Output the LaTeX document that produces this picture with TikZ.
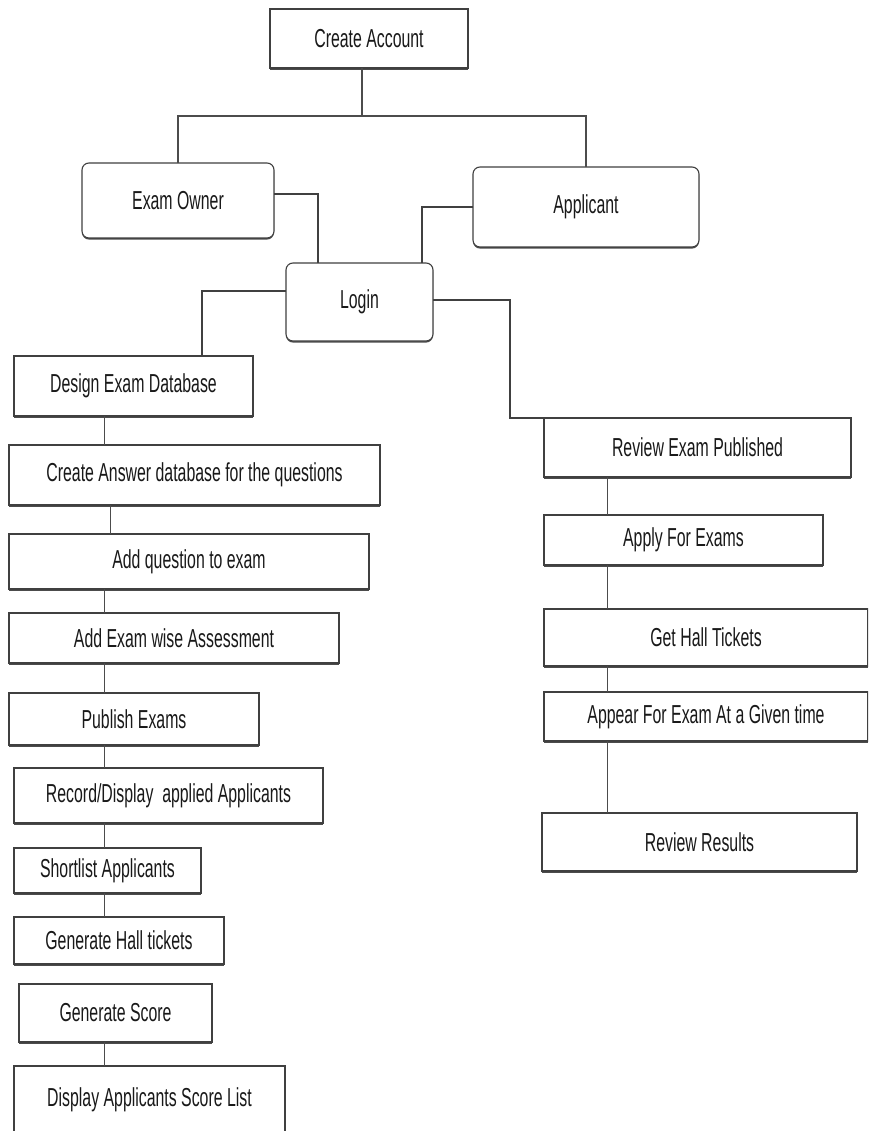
\documentclass[tikz,border=0pt]{standalone}
\usepackage{fontspec}
\newfontfamily\condfont[FakeStretch=0.61]{Liberation Sans}
\usetikzlibrary{shadows}
\begin{document}
\begin{tikzpicture}[x=1pt,y=-1pt,
  box/.style={draw=black!75, line width=1.1pt, fill=white, inner sep=0pt, outer sep=0pt,
    font=\condfont\fontsize{26}{28}\selectfont, text=black!90,
    drop shadow={shadow xshift=0pt, shadow yshift=-1.6pt, fill=black!70, opacity=1}},
  rbox/.style={box, rounded corners=7pt},
  conn/.style={draw=black!70, line width=1pt},
  thick conn/.style={draw=black!75, line width=1.8pt}]
\useasboundingbox (0,0) rectangle (868,1131);
\clip (0,0) rectangle (868,1131);
\fill[white] (0,0) rectangle (868,1131);

% top part
\node[box, minimum width=198, minimum height=59] (ca) at (369,38.5) {Create Account};
\node[rbox, minimum width=192, minimum height=75] (eo) at (178,200.5) {Exam Owner};
\node[rbox, minimum width=226, minimum height=80] (ap) at (586,207) {Applicant};
\node[rbox, minimum width=147, minimum height=78] (lg) at (359.5,302) {Login};

% exam owner column
\node[box, minimum width=239, minimum height=60] (d1) at (133.5,386) {Design Exam Database};
\node[box, minimum width=371, minimum height=60] (d2) at (194.5,475) {Create Answer database for the questions};
\node[box, minimum width=360, minimum height=55] (d3) at (189,561.5) {Add question to exam};
\node[box, minimum width=330, minimum height=50] (d4) at (174,638) {Add Exam wise Assessment};
\node[box, minimum width=250, minimum height=52] (d5) at (134,719) {Publish Exams};
\node[box, minimum width=309, minimum height=55] (d6) at (168.5,795.5) {Record/Display\ \ applied Applicants};
\node[box, minimum width=187, minimum height=45] (d7) at (107.5,870.5) {Shortlist Applicants};
\node[box, minimum width=210, minimum height=47] (d8) at (119,940.5) {Generate Hall tickets};
\node[box, minimum width=193, minimum height=58] (d9) at (115.5,1013) {Generate Score};
\node[box, minimum width=271, minimum height=68] (d10) at (149.5,1100) {Display Applicants Score List};

% applicant column
\node[box, minimum width=307, minimum height=59] (r1) at (697.5,447.5) {Review Exam Published};
\node[box, minimum width=279, minimum height=50] (r2) at (683.5,540) {Apply For Exams};
\node[box, minimum width=324, minimum height=57] (r3) at (706,637.5) {Get Hall Tickets};
\node[box, minimum width=324, minimum height=49] (r4) at (706,716.5) {Appear For Exam At a Given time};
\node[box, minimum width=315, minimum height=58] (r5) at (699.5,842) {Review Results};

% junction coordinates
\coordinate (j1) at (362,116);
\coordinate (jk) at (510,418);
\coordinate (lx) at (104,0);
\coordinate (lx2) at (110,0);
\coordinate (rx) at (607,0);

% connectors top
\draw[conn, line width=1.3pt] (ca.south -| j1) -- (j1);
\draw[conn, line width=1.3pt] (eo.north) |- (j1) -| (ap.north);
\draw[thick conn] ([yshift=6.5pt]eo.east) -| ([xshift=-41.5pt]lg.north);
\draw[thick conn] (ap.west) -| ([xshift=62.5pt]lg.north);
\draw[thick conn] ([yshift=11pt]lg.west) -| ([xshift=68.5pt]d1.north);
\draw[thick conn] ([yshift=2pt]lg.east) -| (jk) -- (r1.north west);

% left chain
\draw[conn] (d1.south -| lx) -- (d2.north -| lx);
\draw[conn] (d2.south -| lx2) -- (d3.north -| lx2);
\draw[conn] (d3.south -| lx) -- (d4.north -| lx);
\draw[conn] (d4.south -| lx) -- (d5.north -| lx);
\draw[conn] (d5.south -| lx) -- (d6.north -| lx);
\draw[conn] (d6.south -| lx) -- (d7.north -| lx);
\draw[conn] (d7.south -| lx) -- (d8.north -| lx);
\draw[conn] (d9.south -| lx) -- (d10.north -| lx);

% right chain
\draw[conn] (r1.south -| rx) -- (r2.north -| rx);
\draw[conn] (r2.south -| rx) -- (r3.north -| rx);
\draw[conn] (r3.south -| rx) -- (r4.north -| rx);
\draw[conn] (r4.south -| rx) -- (r5.north -| rx);
\end{tikzpicture}
\end{document}
